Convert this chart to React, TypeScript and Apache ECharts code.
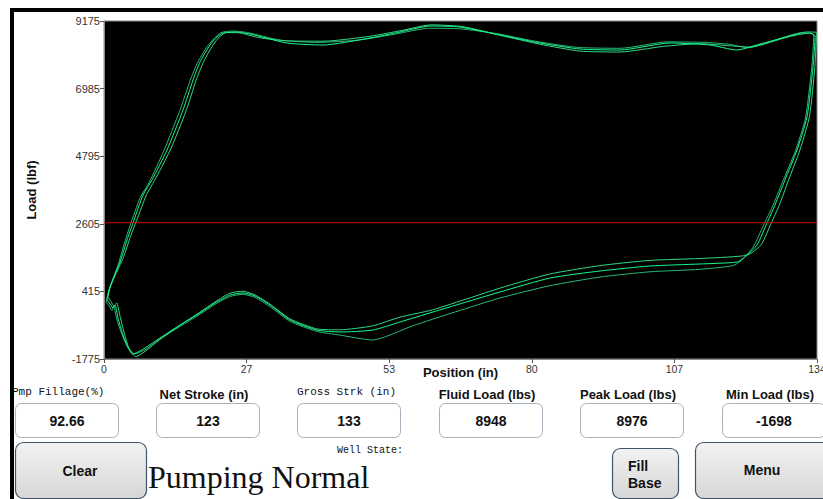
import React, { useEffect, useRef } from "react";
import * as echarts from "echarts";

// ---------- data ----------
const X_TICKS = [0, 26.8, 53.6, 80.4, 107.2, 134];
const X_TICK_LABELS = ["0", "27", "53", "80", "107", "134"];
const Y_TICKS = [-1775, 415, 2605, 4795, 6985, 9175];
const BASE_LOAD = 2640;

// Three overlapping dynamometer strokes: [position (in), load (lbf)]
const strokeA: number[][] = [
  [0.56, 136], [0.94, 460], [1.5, 719], [3.01, 1367], [4.32, 2080], [5.45, 2631], [7.33, 3538], [9.02, 4024],
  [11.84, 4996], [14.85, 6292], [16.73, 7263], [18.04, 7847], [19.92, 8397], [21.24, 8656], [22.36, 8786],
  [24.62, 8818], [27.44, 8754], [34.39, 8462], [41.16, 8397], [49.99, 8624], [55.63, 8818], [61.27, 9013],
  [66.9, 8980], [74.42, 8721], [81.94, 8462], [89.46, 8268], [96.98, 8235], [106.37, 8462], [113.89, 8397],
  [118.96, 8235], [123.29, 8430], [128.36, 8656], [132.68, 8786], [133.63, 8689], [133.25, 7685], [132.12, 6065],
  [130.24, 4996], [127.98, 4024], [126.1, 3214], [124.6, 2631], [122.72, 1918], [120.47, 1529], [118.96, 1367],
  [112.01, 1303], [102.61, 1238], [93.22, 1076], [83.82, 849], [74.42, 396], [61.83, -252], [55.63, -576],
  [50.55, -836], [44.35, -900], [40.03, -836], [34.96, -512], [31.2, -26], [28.38, 266], [26.12, 363],
  [23.68, 298], [20.86, 39], [18.04, -285], [14.28, -674], [10.52, -1095], [7.71, -1419], [5.64, -1600],
  [4.51, -1386], [3.57, -998], [2.63, -447], [2.07, -26], [1.69, -123], [1.13, 7], [0.56, 136],
];
const strokeB: number[][] = [
  [0.75, 250], [1.2, 560], [2.0, 900], [3.6, 1500], [5.0, 2200], [6.1, 2700], [8.0, 3550], [9.8, 4100],
  [12.6, 5050], [15.5, 6300], [17.3, 7250], [18.7, 7850], [20.5, 8400], [21.8, 8680], [23.0, 8800],
  [25.5, 8790], [29.0, 8640], [34.4, 8530], [41.2, 8520], [50.0, 8680], [56.0, 8870], [61.5, 9050],
  [67.5, 8990], [75.0, 8690], [82.0, 8420], [89.5, 8200], [97.0, 8170], [105.0, 8350], [112.0, 8440],
  [117.0, 8380], [121.5, 8330], [127.0, 8580], [132.0, 8820], [133.9, 8800], [133.6, 7700], [132.6, 6100],
  [130.8, 5000], [128.6, 4000], [126.9, 3200], [125.4, 2631], [123.6, 1950], [121.6, 1650], [119.8, 1560],
  [112.0, 1480], [102.6, 1420], [93.2, 1250], [83.8, 980], [74.4, 520], [61.8, -180], [55.6, -420],
  [50.5, -700], [44.3, -830], [40.0, -800], [35.0, -480], [31.2, 0], [28.4, 300], [26.1, 420],
  [23.7, 360], [20.9, 80], [18.0, -260], [14.3, -680], [10.5, -1150], [7.7, -1530], [6.0, -1698],
  [4.8, -1480], [3.9, -1000], [3.0, -380], [2.4, 40], [1.9, -60], [1.3, 80], [0.75, 250],
];
const strokeC: number[][] = [
  [0.4, 60], [0.8, 380], [1.3, 650], [2.6, 1250], [3.8, 1950], [4.9, 2550], [6.8, 3450], [8.5, 3950],
  [11.2, 4950], [14.2, 6250], [16.2, 7250], [17.5, 7800], [19.4, 8350], [20.8, 8630], [22.0, 8800],
  [24.0, 8850], [27.0, 8800], [33.0, 8560], [40.0, 8480], [48.0, 8560], [55.0, 8760], [61.0, 8940],
  [67.0, 8920], [74.0, 8760], [81.0, 8520], [89.0, 8320], [97.0, 8290], [106.0, 8500], [113.0, 8480],
  [117.5, 8420], [121.0, 8310], [125.5, 8520], [131.0, 8790], [133.4, 8720], [133.0, 7650], [131.8, 6000],
  [129.9, 4950], [127.5, 3950], [125.6, 3150], [124.0, 2580], [122.0, 1850], [119.8, 1420], [118.2, 1250],
  [112.0, 1130], [102.6, 1050], [93.2, 880], [83.8, 600], [74.4, 200], [66.0, -250], [58.0, -700],
  [50.5, -1160], [44.3, -1000], [40.0, -880], [35.0, -560], [31.2, -80], [28.4, 220], [26.1, 320],
  [23.7, 250], [20.9, 0], [18.0, -330], [14.3, -720], [10.5, -1120], [7.7, -1480], [5.4, -1620],
  [4.3, -1350], [3.3, -950], [2.4, -480], [1.8, -60], [1.5, -200], [0.9, -40], [0.4, 60],
];

const FIELD_LABELS = ["Pmp Fillage(%)", "Net Stroke (in)", "Gross Strk (in)", "Fluid Load (lbs)", "Peak Load (lbs)", "Min Load (lbs)"];
const FIELD_VALUES = ["92.66", "123", "133", "8948", "8976", "-1698"];
const WELL_STATE_LABEL = "Well State:";
const WELL_STATE = "Pumping Normal";
const BUTTONS = ["Clear", "Fill\nBase", "Menu"];

// ---------- layout ----------
const BOX_X = [15.5, 156.5, 297.5, 439.5, 580.5, 722.5];
const BOX_W = 103;
const MONO = "'Liberation Mono', 'DejaVu Sans Mono', monospace";
const SANS = "'Liberation Sans', Arial, sans-serif";

function xLabel(v: number) {
  let best = 0;
  X_TICKS.forEach((t, i) => {
    if (Math.abs(t - v) < Math.abs(X_TICKS[best] - v)) best = i;
  });
  return X_TICK_LABELS[best];
}

export default function App() {
  const ref = useRef<HTMLDivElement>(null);
  useEffect(() => {
    if (!ref.current) return;
    const chart = echarts.init(ref.current, undefined, { renderer: "svg" });

    const graphics: any[] = [];
    FIELD_LABELS.forEach((lab, i) => {
      const mono = i === 0 || i === 2;
      if (mono) {
        graphics.push({
          type: "text", x: i === 0 ? 12 : 297, y: 392, z: 10,
          style: { text: lab, font: `11px ${MONO}`, fill: "#111", align: "left", verticalAlign: "middle" },
        });
      } else {
        graphics.push({
          type: "text", x: BOX_X[i] + BOX_W / 2 - 4, y: 394, z: 10,
          style: { text: lab, font: `bold 13px ${SANS}`, fill: "#111", align: "center", verticalAlign: "middle" },
        });
      }
      graphics.push({
        type: "rect", z: 10,
        shape: { x: BOX_X[i], y: 403.5, width: BOX_W, height: 34, r: 6 },
        style: { fill: "#fff", stroke: "#a7b1bb", lineWidth: 1 },
      });
      graphics.push({
        type: "text", x: BOX_X[i] + BOX_W / 2, y: 421, z: 11,
        style: { text: FIELD_VALUES[i], font: `bold 14px ${SANS}`, fill: "#111", align: "center", verticalAlign: "middle" },
      });
    });
    graphics.push({
      type: "text", x: 403, y: 450, z: 10,
      style: { text: WELL_STATE_LABEL, font: `10px ${MONO}`, fill: "#111", align: "right", verticalAlign: "middle" },
    });
    graphics.push({
      type: "text", x: 148, y: 477, z: 10,
      style: { text: WELL_STATE, font: `32px 'Liberation Serif', 'Times New Roman', serif`, fill: "#111", align: "left", verticalAlign: "middle" },
    });
    const grad = () =>
      new echarts.graphic.LinearGradient(0, 0, 0, 1, [
        { offset: 0, color: "#f2f2f2" },
        { offset: 1, color: "#d6d6d6" },
      ]);
    const btnRects = [
      { x: 15.5, y: 442.5, w: 131, h: 56 },
      { x: 612.5, y: 448.5, w: 66, h: 50 },
      { x: 695.5, y: 442.5, w: 140, h: 56 },
    ];
    btnRects.forEach((b) => {
      graphics.push({
        type: "rect", z: 10,
        shape: { x: b.x, y: b.y, width: b.w, height: b.h, r: 8 },
        style: { fill: grad(), stroke: "#40556a", lineWidth: 1.2 },
      });
    });
    graphics.push({
      type: "text", x: 80, y: 471, z: 11,
      style: { text: BUTTONS[0], font: `bold 14px ${SANS}`, fill: "#111", align: "center", verticalAlign: "middle" },
    });
    graphics.push({
      type: "text", x: 628, y: 474.5, z: 11,
      style: { text: BUTTONS[1], font: `bold 14px ${SANS}`, lineHeight: 17, fill: "#111", align: "left", verticalAlign: "middle" },
    });
    graphics.push({
      type: "text", x: 762, y: 470, z: 11,
      style: { text: BUTTONS[2], font: `bold 14px ${SANS}`, fill: "#111", align: "center", verticalAlign: "middle" },
    });
    graphics.push({ type: "rect", z: 20, shape: { x: 10, y: 8, width: 813, height: 4 }, style: { fill: "#000" } });
    graphics.push({ type: "rect", z: 20, shape: { x: 10, y: 8, width: 4, height: 491 }, style: { fill: "#000" } });

    const lineSeries = (data: number[][], color: string) => ({
      type: "line",
      data,
      showSymbol: false,
      symbol: "none",
      smooth: 0.2,
      lineStyle: { color, width: 1 },
      z: 3,
    });

    chart.setOption({
      animation: false,
      backgroundColor: "#fff",
      grid: {
        left: 104, right: 6, top: 21, bottom: 140,
        show: true, backgroundColor: "#000", borderColor: "#8a8a8a", borderWidth: 1,
        containLabel: false, outerBoundsMode: "none",
      },
      xAxis: {
        type: "value", min: 0, max: 134,
        name: "Position (in)", nameLocation: "middle", nameGap: 7, nameMoveOverlap: false,
        nameTextStyle: { fontFamily: SANS, fontWeight: "bold", fontSize: 13, color: "#111", verticalAlign: "top" },
        axisLine: { show: true, onZero: false, lineStyle: { color: "#8a8a8a", width: 1 } },
        axisTick: { show: true, length: 4, customValues: X_TICKS, lineStyle: { color: "#555" } },
        axisLabel: {
          customValues: X_TICKS, fontFamily: SANS, fontSize: 10.5, color: "#333", margin: 4,
          formatter: (v: number) => xLabel(v),
        },
        splitLine: { show: false },
      },
      yAxis: {
        type: "value", min: -1775, max: 9175,
        name: "Load (lbf)", nameLocation: "middle", nameGap: 66, nameRotate: 90, nameMoveOverlap: false,
        nameTextStyle: { fontFamily: SANS, fontWeight: "bold", fontSize: 13, color: "#111" },
        axisLine: { show: true, onZero: false, lineStyle: { color: "#8a8a8a", width: 1 } },
        axisTick: { show: true, length: 4, customValues: Y_TICKS, lineStyle: { color: "#555" } },
        axisLabel: {
          customValues: Y_TICKS, fontFamily: SANS, fontSize: 11, color: "#333", margin: 4,
          formatter: (v: number) => String(v),
        },
        splitLine: { show: false },
      },
      series: [
        lineSeries(strokeC, "#28b874"),
        lineSeries(strokeB, "#30d884"),
        lineSeries(strokeA, "#18f88e"),
        {
          type: "line",
          data: [[0, BASE_LOAD], [134, BASE_LOAD]],
          showSymbol: false, symbol: "none",
          lineStyle: { color: "#d40000", width: 1 },
          z: 5,
        },
      ],
      graphic: graphics,
    });
    return () => chart.dispose();
  }, []);
  return (
    <div
      ref={ref}
      style={{ position: "fixed", left: 0, top: 0, width: 823, height: 499, background: "#fff" }}
    />
  );
}
